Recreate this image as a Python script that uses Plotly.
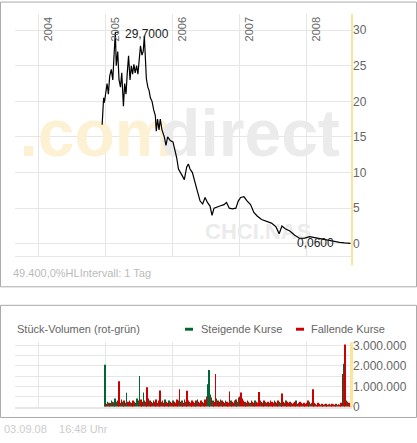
import plotly.graph_objects as go
import pandas as pd

# Kursverlauf (Schlusskurse)
price_dates = [
    "2004-12-12", "2004-12-16", "2004-12-20", "2004-12-24", "2005-01-01", "2005-01-08",
    "2005-01-15", "2005-01-22", "2005-01-31", "2005-02-08", "2005-02-15", "2005-02-22",
    "2005-02-27", "2005-03-07", "2005-03-14", "2005-03-22", "2005-03-29", "2005-04-07",
    "2005-04-14", "2005-04-21", "2005-04-28", "2005-05-05", "2005-05-13", "2005-05-20",
    "2005-05-27", "2005-06-03", "2005-06-10", "2005-06-18", "2005-06-25", "2005-07-02",
    "2005-07-09", "2005-07-17", "2005-07-24", "2005-07-30", "2005-08-05", "2005-08-10",
    "2005-08-18", "2005-08-25", "2005-09-01", "2005-09-10", "2005-09-19", "2005-09-28",
    "2005-10-03", "2005-10-10", "2005-10-18", "2005-10-25", "2005-11-03", "2005-11-16",
    "2005-11-25", "2005-12-04", "2005-12-18", "2006-01-02", "2006-01-14", "2006-01-23",
    "2006-02-01", "2006-02-10", "2006-02-23", "2006-03-05", "2006-03-18", "2006-03-27",
    "2006-04-05", "2006-04-18", "2006-05-02", "2006-05-15", "2006-05-30", "2006-06-13",
    "2006-06-26", "2006-07-09", "2006-07-23", "2006-08-03", "2006-08-14", "2006-08-28",
    "2006-09-15", "2006-10-07", "2006-10-21", "2006-11-05", "2006-11-23", "2006-12-11",
    "2006-12-24", "2007-01-06", "2007-01-24", "2007-02-11", "2007-03-01", "2007-03-19",
    "2007-04-06", "2007-04-30", "2007-05-27", "2007-06-23", "2007-07-17", "2007-08-04",
    "2007-08-19", "2007-09-06", "2007-10-01", "2007-10-28", "2007-11-24", "2007-12-21",
    "2008-01-17", "2008-02-13", "2008-03-11", "2008-04-07", "2008-05-04", "2008-05-31",
    "2008-06-28", "2008-07-25", "2008-08-21", "2008-08-27",
]
prices = [
    16.7, 18.3, 20.5, 19.8, 21.0, 22.5, 21.0, 23.5, 24.5, 23.0, 26.5, 29.7,
    25.0, 27.0, 23.0, 22.0, 24.0, 19.3, 22.5, 21.0, 24.0, 26.4, 23.0, 25.0,
    23.8, 25.2, 24.0, 25.0, 23.8, 26.0, 27.8, 26.5, 27.0, 29.2, 26.0, 23.2,
    22.0, 21.5, 20.5, 20.0, 18.8, 18.0, 15.8, 17.5, 16.0, 17.5, 16.0, 15.0,
    13.8, 15.0, 14.5, 14.3, 13.0, 12.0, 10.5, 10.0, 9.5, 9.0, 10.8, 11.2,
    10.5, 10.0, 8.8, 7.4, 6.0, 5.6, 6.5, 5.8, 5.3, 4.0, 5.0, 5.1,
    5.3, 5.5, 5.8, 5.0, 4.9, 5.0, 6.0, 6.5, 6.6, 6.0, 5.5, 4.4,
    3.9, 3.4, 3.1, 2.9, 2.4, 1.4, 2.5, 2.1, 1.8, 1.2, 0.75, 0.8,
    1.0, 0.85, 0.75, 0.6, 0.45, 0.35, 0.2, 0.12, 0.06, 0.06,
]

# Wochenvolumen in Tausend Stück, g = steigend, r = fallend (ab 27.12.2004)
volume_k = [
    2050, 150, 250, 200, 180, 300, 250, 220, 400, 250, 300, 1250, 200,
    350, 250, 300, 200, 680, 250, 300, 220, 200, 300, 250, 200, 400,
    300, 1500, 350, 250, 700, 300, 250, 960, 400, 300, 250, 200, 300,
    250, 350, 200, 300, 800, 250, 300, 200, 350, 250, 200, 300, 250,
    200, 300, 250, 200, 350, 300, 850, 250, 300, 200, 350, 250, 780,
    300, 250, 200, 300, 250, 200, 300, 350, 250, 200, 300, 250, 200,
    350, 500, 1100, 1800, 600, 450, 300, 250, 1600, 400, 300, 250, 350,
    300, 250, 200, 300, 250, 200, 750, 300, 250, 200, 300, 350, 250,
    450, 500, 700, 400, 300, 250, 200, 300, 250, 200, 300, 250, 200,
    300, 250, 200, 720, 300, 250, 200, 300, 250, 200, 250, 200, 300,
    250, 200, 300, 250, 200, 300, 250, 200, 650, 250, 200, 300, 250,
    200, 250, 200, 150, 200, 250, 300, 150, 200, 250, 200, 150, 200,
    150, 200, 300, 250, 150, 200, 850, 200, 150, 100, 200, 150, 100,
    150, 100, 120, 150, 100, 120, 150, 100, 150, 120, 100, 150, 100,
    120, 100, 200, 1600, 2100, 3050, 300, 250, 200, 150, 600,
]
direction = (
    "grggrgrggrgrg"
    "rgrggrrgrrgrg"
    "rgrrggrrrgrrg"
    "rrgrrgrrgrrgr"
    "rgrrrgrrgrrgr"
    "rgrrrgrgrrrgr"
    "rrgggrgrrgr"
    "rrgrrgrrrgrrgr"
    "ggrrrrgrrrgrr"
    "rgrrrgrrrgrrg"
    "rrrgrrrggrrrg"
    "rrrgrrrgrrrrg"
    "rrrrgrgrrgrrr"
    "grrgrrrgrrrrg"
    "rrrrrgrgrrr"
)
week_start = "2004-12-27"

years = ["2004", "2005", "2006", "2007", "2008"]
price_ticks = [0, 5, 10, 15, 20, 25, 30]
vol_ticks = [0, 500000, 1000000, 1500000, 2000000, 2500000, 3000000]
vol_labels = ["0", "", "1.000.000", "", "2.000.000", "", "3.000.000"]

W, H = 417, 443
def px(x):
    return x / W
def py(y):
    return 1 - y / H

vol = [v * 1000 for v in volume_k]
vdates = pd.date_range(week_start, periods=len(vol), freq="7D")
dirs = (direction + "r" * len(vol))[:len(vol)]
up = [v if d == "g" else None for v, d in zip(vol, dirs)]
down = [v if d == "r" else None for v, d in zip(vol, dirs)]

font = "Liberation Sans, Arial, sans-serif"
grey = "#666666"
fig = go.Figure()

# Wasserzeichen unter der Kurslinie
fig.add_trace(go.Scatter(x=["2003-09-18"], y=[14.6], mode="text", text=["<b>.com</b>"],
                         textposition="middle right",
                         textfont=dict(size=66, color="#fdf1d4", family=font)))
fig.add_trace(go.Scatter(x=["2005-10-24"], y=[14.6], mode="text", text=["<b>direct</b>"],
                         textposition="middle right",
                         textfont=dict(size=66, color="#ebebeb", family=font)))
fig.add_trace(go.Scatter(x=["2006-06-26"], y=[1.4], mode="text", text=["<b>CHCI.NAS</b>"],
                         textposition="middle right",
                         textfont=dict(size=22, color="#ebebeb", family=font)))

fig.add_trace(go.Scatter(x=price_dates, y=prices, mode="lines",
                         line=dict(color="black", width=1.2), xaxis="x", yaxis="y"))
fig.add_trace(go.Bar(x=vdates, y=up, marker_color="#006633", marker_line_width=0,
                     width=3 * 86400000, xaxis="x2", yaxis="y2"))
fig.add_trace(go.Bar(x=vdates, y=down, marker_color="#cc0000", marker_line_width=0,
                     width=3 * 86400000, xaxis="x2", yaxis="y2"))

xr = ["2003-08-25", "2008-09-04"]
year_ticks = [y + "-01-01" for y in years]
common_x = dict(range=xr, type="date", tickvals=year_ticks, showticklabels=False,
                showgrid=True, gridcolor="#e6e6e6", zeroline=False, ticks="")
fig.update_layout(
    width=W, height=H, margin=dict(l=0, r=0, t=0, b=0),
    paper_bgcolor="white", plot_bgcolor="white", showlegend=False,
    barmode="overlay", font=dict(family=font, size=11, color=grey),
    xaxis=dict(domain=[px(15), px(352)], showline=True, linecolor="#e6e6e6",
               anchor="y", **common_x),
    yaxis=dict(domain=[py(258), py(10)], range=[-1.66, 32.3], side="right",
               tickvals=price_ticks, showgrid=True, gridcolor="#e6e6e6",
               zeroline=False, ticks="", tickfont=dict(size=12, color=grey)),
    xaxis2=dict(domain=[px(15), px(352)], anchor="y2", showline=True,
                linecolor="#e6e6e6", linewidth=2, **common_x),
    yaxis2=dict(domain=[py(413), py(347)], range=[0, 3150000], side="right",
                tickvals=vol_ticks, ticktext=vol_labels, showgrid=True,
                gridcolor="#e6e6e6", zeroline=False, ticks="",
                tickfont=dict(size=12, color=grey)),
)

shapes = [
    dict(type="rect", xref="paper", yref="paper", x0=px(0.5), x1=px(416.5),
         y0=py(290), y1=py(-2), line=dict(color="#aaaaaa", width=1)),
    dict(type="rect", xref="paper", yref="paper", x0=px(0.5), x1=px(416.5),
         y0=py(424), y1=py(309), line=dict(color="#aaaaaa", width=1)),
    dict(type="line", xref="paper", yref="paper", x0=px(352), x1=px(352),
         y0=py(268), y1=py(10), line=dict(color="#fce49a", width=2)),
    dict(type="rect", xref="paper", yref="paper", x0=px(350), x1=px(353),
         y0=py(413), y1=py(347), fillcolor="#fce49a", line=dict(width=0)),
    dict(type="line", xref="x", yref="y", x0="2005-02-22", x1="2005-03-12",
         y0=29.7, y1=29.7, line=dict(color="black", width=1)),
    dict(type="rect", xref="paper", yref="paper", x0=px(185), x1=px(193),
         y0=py(335), y1=py(332), fillcolor="#006633", line=dict(width=0)),
    dict(type="rect", xref="paper", yref="paper", x0=px(296), x1=px(304),
         y0=py(335), y1=py(332), fillcolor="#cc0000", line=dict(width=0)),
]
fig.update_layout(shapes=shapes)

ann = [
    dict(text="29,7000", x=px(123), y=py(31), xanchor="left", yanchor="middle",
         font=dict(size=12, color="#222222")),
    dict(text="0,0600", x=px(295), y=py(245), xanchor="left", yanchor="middle",
         font=dict(size=12, color="#222222")),
    dict(text="49.400,0%HLIntervall: 1 Tag", x=px(11), y=py(276), xanchor="left",
         yanchor="middle", font=dict(size=11, color="#bbbbbb")),
    dict(text="Stück-Volumen (rot-grün)", x=px(15), y=py(333), xanchor="left",
         yanchor="middle", font=dict(size=11, color=grey)),
    dict(text="Steigende Kurse", x=px(199), y=py(333), xanchor="left",
         yanchor="middle", font=dict(size=11, color=grey)),
    dict(text="Fallende Kurse", x=px(309), y=py(333), xanchor="left",
         yanchor="middle", font=dict(size=11, color=grey)),
    dict(text="03.09.08&nbsp;&nbsp;&nbsp;&nbsp;16:48 Uhr", x=px(2), y=py(436),
         xanchor="left", yanchor="middle", font=dict(size=11, color="#cccccc")),
]
for y in years:
    ann.append(dict(text=y, xref="x", yref="paper", x=y + "-01-01", y=py(12),
                    xanchor="left", yanchor="top", textangle=-90, xshift=1,
                    font=dict(size=11, color=grey)))
for a in ann:
    a.setdefault("xref", "paper")
    a.setdefault("yref", "paper")
    a["showarrow"] = False
fig.update_layout(annotations=ann)

fig.write_html("out.html", config={"displayModeBar": False},
               post_script="document.body.style.margin='0';")
